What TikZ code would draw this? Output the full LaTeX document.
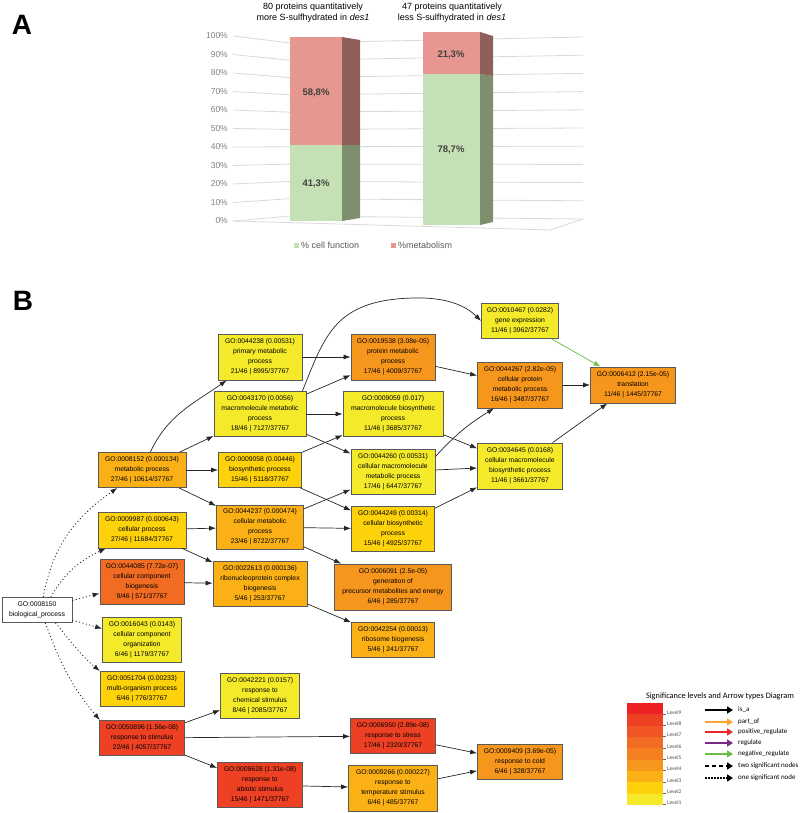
\documentclass[tikz,border=0pt]{standalone}
\usepackage{fontspec}
\setmainfont{Liberation Sans}
\newfontfamily\calfont{Carlito}
\usetikzlibrary{positioning,arrows.meta}
% níveis de significância
\definecolor{lev1}{HTML}{F4EA2A}
\definecolor{lev2}{HTML}{FDD20B}
\definecolor{lev3}{HTML}{FBB116}
\definecolor{lev4}{HTML}{F7961D}
\definecolor{lev5}{HTML}{F4801F}
\definecolor{lev6}{HTML}{F26B22}
\definecolor{lev7}{HTML}{F05523}
\definecolor{lev8}{HTML}{EE4124}
\definecolor{lev9}{HTML}{ED2224}
% gráfico de barras
\definecolor{cellfront}{HTML}{C5E0B4}
\definecolor{cellside}{HTML}{7E8F6D}
\definecolor{metfront}{HTML}{E6978F}
\definecolor{metside}{HTML}{8F5F5A}
\definecolor{gridgray}{HTML}{D9D9D9}
\definecolor{partof}{HTML}{F9A630}
\definecolor{posreg}{HTML}{E8262B}
\definecolor{regul}{HTML}{7B2A86}
\definecolor{negreg}{HTML}{6BBE45}
\tikzset{
  panel/.style={font=\fontsize{28}{30}\selectfont\bfseries, inner sep=0pt},
  term/.style={draw=black!65, line width=0.8pt, align=center, inner sep=1pt, font=\fontsize{6.8}{10}\selectfont},
  isa/.style={draw=black!85, line width=0.7pt, -{Latex[length=7pt,width=5pt]}},
  negarrow/.style={isa, draw=negreg, fill=negreg},
  onesig/.style={isa, dash pattern=on 1pt off 2.5pt, line width=0.9pt},
  axlab/.style={font=\fontsize{8.5}{9}\selectfont, text=black!50, inner sep=0pt},
  pct/.style={font=\fontsize{9.5}{10}\selectfont\bfseries, text=black!75},
  bartitle/.style={font=\fontsize{9}{10.5}\selectfont, align=center},
  leglab/.style={font=\fontsize{9}{10}\selectfont, text=black!65, inner sep=0pt, anchor=west},
  legarrow/.style={line width=2.5pt, -{Triangle[length=6pt,width=7pt]}},
  small/.style={font=\calfont\fontsize{7}{8}\selectfont, inner sep=0pt, anchor=west}
}

\begin{document}
\begin{tikzpicture}[x=1pt, y=1pt]
  \useasboundingbox (0,0) rectangle (800,-813);
  \node[panel] (labA) at (22,-25) {A};
  \node[panel] (labB) at (23,-301) {B};

  % linhas de grade (paredes em perspectiva)
  \foreach \i in {0,...,10} {
    \pgfmathtruncatemacro\pc{10*\i}
    \draw[gridgray, line width=0.8pt] (233,{-(221-18.5*\i)}) -- (290,{-(216-17.3*\i)}) -- (583,{-(219-18.2*\i)});
    \node[axlab, anchor=east] (ax\i) at (228,{-(221-18.5*\i)}) {\pc\%};
  }
  \draw[gridgray, line width=0.8pt] (233,-221) -- (550,-230) -- (583,-219);

  % barra 1
  \fill[cellfront] (290,-145) rectangle (342,-221);
  \fill[metfront] (290,-37) rectangle (342,-145);
  \fill[cellside] (342,-145) -- (360,-145) -- (360,-218) -- (342,-221) -- cycle;
  \fill[metside] (342,-37) -- (360,-40) -- (360,-145) -- (342,-145) -- cycle;
  % barra 2
  \fill[cellfront] (423,-74) rectangle (480,-225);
  \fill[metfront] (423,-32) rectangle (480,-74);
  \fill[cellside] (480,-74) -- (493,-76) -- (493,-222) -- (480,-225) -- cycle;
  \fill[metside] (480,-32) -- (493,-36) -- (493,-76) -- (480,-74) -- cycle;

  \node[pct] (p1m) at (316,-93) {58,8\%};
  \node[pct] (p1c) at (316,-184) {41,3\%};
  \node[pct] (p2m) at (451,-55) {21,3\%};
  \node[pct] (p2c) at (451,-150) {78,7\%};
  \node[bartitle] (t1) at (313,-12.5) {80 proteins quantitatively\\more S-sulfhydrated in \textit{des1}};
  \node[bartitle] (t2) at (452,-12.5) {47 proteins quantitatively\\less S-sulfhydrated in \textit{des1}};

  % legenda do gráfico
  \fill[cellfront] (293.5,-242.5) rectangle ++(5,-5);
  \node[leglab] (lcell) at (301,-245) {\% cell function};
  \fill[metfront] (390.5,-242.5) rectangle ++(5,-5);
  \node[leglab] (lmet) at (398,-245) {\%metabolism};

  % termos GO
  \node[term, fill=white, minimum width=70, minimum height=25] (g8150) at (37,-610) {GO:0008150\\biological\_process};
  \node[term, fill=lev3, minimum width=88, minimum height=35] (g8152) at (142,-470) {GO:0008152 (0.000134)\\metabolic process\\27/46 | 10614/37767};
  \node[term, fill=lev2, minimum width=88, minimum height=36] (g9987) at (142,-530) {GO:0009987 (0.000643)\\cellular process\\27/46 | 11684/37767};
  \node[term, fill=lev6, minimum width=84, minimum height=45] (g44085) at (142,-582) {GO:0044085 (7.72e-07)\\cellular component\\biogenesis\\9/46 | 571/37767};
  \node[term, fill=lev1, minimum width=79, minimum height=45] (g16043) at (142,-640) {GO:0016043 (0.0143)\\cellular component\\organization\\6/46 | 1179/37767};
  \node[term, fill=lev2, minimum width=84, minimum height=35] (g51704) at (142,-689) {GO:0051704 (0.00233)\\multi-organism process\\6/46 | 776/37767};
  \node[term, fill=lev8, minimum width=85, minimum height=35] (g50896) at (142,-738) {GO:0050896 (1.56e-08)\\response to stimulus\\22/46 | 4057/37767};

  \node[term, fill=lev1, minimum width=84, minimum height=46] (g44238) at (260,-357) {GO:0044238 (0.00531)\\primary metabolic\\process\\21/46 | 8995/37767};
  \node[term, fill=lev1, minimum width=92, minimum height=45] (g43170) at (260,-414) {GO:0043170 (0.0056)\\macromolecule metabolic\\process\\18/46 | 7127/37767};
  \node[term, fill=lev2, minimum width=83, minimum height=35] (g9058) at (260,-470) {GO:0009058 (0.00446)\\biosynthetic process\\15/46 | 5118/37767};
  \node[term, fill=lev3, minimum width=87, minimum height=44] (g44237) at (260,-527) {GO:0044237 (0.000474)\\cellular metabolic\\process\\23/46 | 8722/37767};
  \node[term, fill=lev3, minimum width=94, minimum height=45] (g22613) at (260,-584) {GO:0022613 (0.000136)\\ribonucleoprotein complex\\biogenesis\\5/46 | 253/37767};
  \node[term, fill=lev1, minimum width=79, minimum height=45] (g42221) at (260,-696) {GO:0042221 (0.0157)\\response to\\chemical stimulus\\8/46 | 2085/37767};
  \node[term, fill=lev8, minimum width=85, minimum height=45] (g9628) at (260,-785) {GO:0009628 (1.31e-08)\\response to\\abiotic stimulus\\15/46 | 1471/37767};

  \node[term, fill=lev4, minimum width=84, minimum height=46] (g19538) at (393,-357) {GO:0019538 (3.08e-05)\\protein metabolic\\process\\17/46 | 4009/37767};
  \node[term, fill=lev1, minimum width=100, minimum height=45] (g9059) at (393,-414) {GO:0009059 (0.017)\\macromolecule biosynthetic\\process\\11/46 | 3685/37767};
  \node[term, fill=lev1, minimum width=84, minimum height=45] (g44260) at (393,-472) {GO:0044260 (0.00531)\\cellular macromolecule\\metabolic process\\17/46 | 6447/37767};
  \node[term, fill=lev2, minimum width=83, minimum height=45] (g44249) at (393,-529) {GO:0044249 (0.00314)\\cellular biosynthetic\\process\\15/46 | 4925/37767};
  \node[term, fill=lev4, minimum width=117, minimum height=46] (g6091) at (393,-587) {GO:0006091 (2.5e-05)\\generation of\\precursor metabolites and energy\\6/46 | 285/37767};
  \node[term, fill=lev3, minimum width=83, minimum height=35] (g42254) at (393,-640) {GO:0042254 (0.00013)\\ribosome biogenesis\\5/46 | 241/37767};
  \node[term, fill=lev8, minimum width=85, minimum height=35] (g6950) at (393,-736) {GO:0006950 (2.89e-08)\\response to stress\\17/46 | 2320/37767};
  \node[term, fill=lev3, minimum width=89, minimum height=46] (g9266) at (393,-788) {GO:0009266 (0.000227)\\response to\\temperature stimulus\\6/46 | 485/37767};

  \node[term, fill=lev1, minimum width=77, minimum height=35] (g10467) at (520,-321) {GO:0010467 (0.0282)\\gene expression\\11/46 | 3962/37767};
  \node[term, fill=lev4, minimum width=85, minimum height=46] (g44267) at (520,-385) {GO:0044267 (2.82e-05)\\cellular protein\\metabolic process\\16/46 | 3487/37767};
  \node[term, fill=lev1, minimum width=85, minimum height=46] (g34645) at (520,-466) {GO:0034645 (0.0168)\\cellular macromolecule\\biosynthetic process\\11/46 | 3661/37767};
  \node[term, fill=lev4, minimum width=85, minimum height=35] (g9409) at (520,-762) {GO:0009409 (3.69e-05)\\response to cold\\6/46 | 328/37767};
  \node[term, fill=lev4, minimum width=85, minimum height=36] (g6412) at (633,-385) {GO:0006412 (2.15e-05)\\translation\\11/46 | 1445/37767};

  % arestas a partir do termo raiz (um nó significativo)
  \draw[onesig] (g8150.64) to[out=80,in=215] (g8152.216);
  \draw[onesig] (g8150.43) to[out=60,in=205] (g9987.207);
  \draw[onesig] (g8150) -- (g44085);
  \draw[onesig] (g8150) -- (g16043);
  \draw[onesig] (g8150.-35) to[out=-50,in=140] (g51704.157);
  \draw[onesig] (g8150.-57) to[out=-70,in=130] (g50896.157);

  % arestas is_a
  \draw[isa] (g8152) to[out=65,in=215] (g44238);
  \draw[isa] (g8152) -- (g43170);
  \draw[isa] (g8152) -- (g9058);
  \draw[isa] (g8152) -- (g44237);
  \draw[isa] (g9987) -- (g44237);
  \draw[isa] (g9987) -- (g22613);
  \draw[isa] (g44085) -- (g22613);
  \draw[isa] (g44238) -- (g19538);
  \draw[isa] (g43170) -- (g19538);
  \draw[isa] (g43170) -- (g9059);
  \draw[isa] (g43170) -- (g44260);
  \draw[isa] ([xshift=-4pt]g43170.north east) .. controls (325,-335) and (335,-300) .. (413,-298) .. controls (445,-297) and (465,-305) .. (g10467.west);
  \draw[isa] (g9058) -- (g9059);
  \draw[isa] (g9058) -- (g44249);
  \draw[isa] (g44237) -- (g44260);
  \draw[isa] (g44237) -- (g44249);
  \draw[isa] (g44237) -- (g6091);
  \draw[isa] (g22613) -- (g42254);
  \draw[isa] (g19538) -- (g44267);
  \draw[isa] (g44260.20) to[bend left=8] (g44267.222);
  \draw[isa] (g44260) -- (g34645);
  \draw[isa] (g9059) -- (g34645);
  \draw[isa] (g44249) -- (g34645);
  \draw[isa] (g44267) -- (g6412);
  \draw[isa] (g34645) -- (g6412);
  \draw[negarrow] (g10467) -- (g6412);
  \draw[isa] (g50896) -- (g42221);
  \draw[isa] (g50896) -- (g6950);
  \draw[isa] (g50896) -- (g9628);
  \draw[isa] (g9628) -- (g9266);
  \draw[isa] (g6950) -- (g9409);
  \draw[isa] (g9266) -- (g9409);

  % legenda: níveis e tipos de seta
  \node[font=\calfont\fontsize{8.3}{9}\selectfont, inner sep=0pt] (legtit) at (720,-696) {Significance levels and Arrow types Diagram};
  \foreach \k in {1,...,9} {
    \fill[lev\k] (627,{-805+11.33*(\k-1)}) rectangle (663,{-805+11.33*\k});
    \draw[black!60, line width=0.4pt] (663,{-804.5+11.33*(\k-1)}) -- ++(3,0);
    \node[small, font=\calfont\fontsize{5.5}{6}\selectfont, text=black!70] (lv\k) at (667,{-803+11.33*(\k-1)}) {Level\k};
  }
  \foreach \y/\c/\t in {710/black/is\_a, 722/partof/part\_of, 732/posreg/positive\_regulate, 743/regul/regulate, 754/negreg/negative\_regulate} {
    \draw[legarrow, \c] (705,-\y) -- (733,-\y);
    \node[small] (la\y) at (738,-\y) {\t};
  }
  \draw[legarrow, dash pattern=on 4pt off 3pt] (705,-766) -- (733,-766);
  \node[small] (la766) at (738,-766) {two significant nodes};
  \draw[legarrow, dash pattern=on 1.5pt off 1.5pt] (705,-778) -- (733,-778);
  \node[small] (la778) at (738,-778) {one significant node};
\end{tikzpicture}
\end{document}
